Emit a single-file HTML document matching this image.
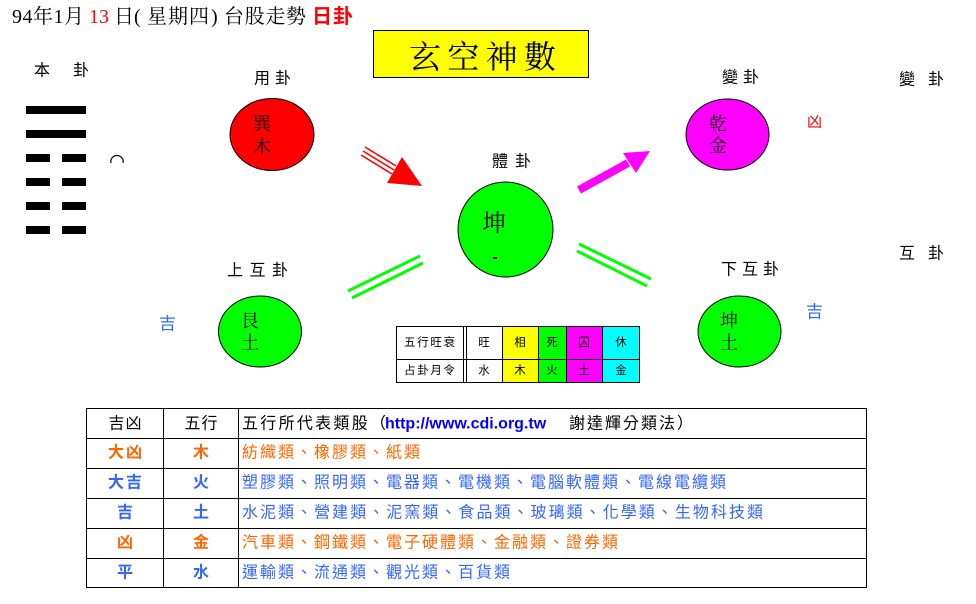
<!DOCTYPE html>
<html><head><meta charset="utf-8">
<style>
html,body{margin:0;padding:0;background:#fff;width:976px;height:604px;overflow:hidden;}
svg{display:block;}
text{font-family:"Liberation Sans","Noto Sans CJK TC",sans-serif;dominant-baseline:central;}
.s{font-family:"Liberation Serif","Noto Serif CJK SC",serif;}
.o{fill:#ff6600;}
.b{fill:#3366ff;}
</style></head><body>
<svg width="976" height="604" viewBox="0 0 976 604" xmlns="http://www.w3.org/2000/svg">
<rect x="0" y="0" width="976" height="604" fill="#fff"/>

<!-- Title -->
<text class="s" x="12" y="17" font-size="20" textLength="72" lengthAdjust="spacing">94年1月</text>
<text class="s" x="89" y="17" font-size="20" fill="#ff0000">13</text>
<text class="s" x="114" y="17" font-size="20">日</text>
<text class="s" x="134" y="17" font-size="20">(</text>
<text class="s" x="147" y="17" font-size="20" textLength="62" lengthAdjust="spacing">星期四</text>
<text class="s" x="211" y="17" font-size="20">)</text>
<text class="s" x="224" y="17" font-size="20" textLength="82" lengthAdjust="spacing">台股走勢</text>
<text x="312" y="17" font-size="20" fill="#ff0000" font-weight="bold" textLength="41" lengthAdjust="spacing">日卦</text>

<!-- Yellow title box -->
<rect x="373.5" y="30.5" width="215" height="47" fill="#ffff00" stroke="#000" stroke-width="1"/>
<text class="s" x="409" y="57" font-size="32" textLength="147" lengthAdjust="spacing">玄空神數</text>

<!-- 本卦 -->
<text x="34" y="71" font-size="16">本</text>
<text x="73" y="71" font-size="16">卦</text>
<rect x="26" y="106" width="60" height="8" fill="#000"/>
<rect x="26" y="130" width="60" height="8" fill="#000"/>
<rect x="26" y="154" width="24" height="8" fill="#000"/>
<rect x="62" y="154" width="24" height="8" fill="#000"/>
<rect x="26" y="178" width="24" height="8" fill="#000"/>
<rect x="62" y="178" width="24" height="8" fill="#000"/>
<rect x="26" y="202" width="24" height="8" fill="#000"/>
<rect x="62" y="202" width="24" height="8" fill="#000"/>
<rect x="26" y="226" width="24" height="8" fill="#000"/>
<rect x="62" y="226" width="24" height="8" fill="#000"/>
<path d="M111,163 A6.2,6 0 1 1 123,163" fill="none" stroke="#000" stroke-width="1.2"/>

<!-- Labels -->
<text x="254" y="79" font-size="16" textLength="37" lengthAdjust="spacing">用卦</text>
<text x="492" y="162" font-size="16" textLength="39" lengthAdjust="spacing">體卦</text>
<text x="722" y="78" font-size="16" textLength="37" lengthAdjust="spacing">變卦</text>
<text x="899" y="80" font-size="16">變</text>
<text x="928" y="80" font-size="16">卦</text>
<text x="899" y="254" font-size="16">互</text>
<text x="928" y="254" font-size="16">卦</text>
<text x="721" y="270" font-size="16" textLength="58" lengthAdjust="spacing">下互卦</text>
<text x="227" y="271" font-size="16" textLength="61" lengthAdjust="spacing">上互卦</text>

<text x="807" y="122" font-size="15" fill="#ff0000">凶</text>
<text x="806" y="312" font-size="17" class="b">吉</text>
<text x="159" y="324" font-size="17" class="b">吉</text>

<!-- Circles -->
<ellipse cx="272" cy="134.5" rx="42" ry="36" fill="#ff0000" stroke="#000" stroke-width="1"/>
<text class="s" x="262" y="124" font-size="18" text-anchor="middle">巽</text>
<text class="s" x="262" y="147" font-size="18" text-anchor="middle">木</text>

<ellipse cx="505.5" cy="229.5" rx="47.5" ry="47.5" fill="#00ff00" stroke="#000" stroke-width="1"/>
<text class="s" x="494" y="224" font-size="24" text-anchor="middle">坤</text>
<rect x="493" y="257" width="4" height="2" fill="#000"/>

<ellipse cx="727.5" cy="134.5" rx="41.5" ry="35.5" fill="#ff00ff" stroke="#000" stroke-width="1"/>
<text class="s" x="718" y="124" font-size="18" text-anchor="middle">乾</text>
<text class="s" x="718" y="146" font-size="18" text-anchor="middle">金</text>

<ellipse cx="260" cy="331.5" rx="41.5" ry="35.5" fill="#00ff00" stroke="#000" stroke-width="1"/>
<text class="s" x="250" y="321" font-size="18" text-anchor="middle">艮</text>
<text class="s" x="250" y="343" font-size="18" text-anchor="middle">土</text>

<ellipse cx="739.5" cy="331.5" rx="41.5" ry="35.5" fill="#00ff00" stroke="#000" stroke-width="1"/>
<text class="s" x="729" y="321" font-size="18" text-anchor="middle">坤</text>
<text class="s" x="729" y="343" font-size="18" text-anchor="middle">土</text>

<!-- Red arrow -->
<g stroke="#ff0000" stroke-width="1.6" fill="none">
<line x1="365" y1="147" x2="396" y2="166"/>
<line x1="363" y1="151" x2="394" y2="170"/>
<line x1="361" y1="155" x2="392" y2="174"/>
</g>
<polygon points="402,157 387,183 422,186" fill="#ff0000"/>

<!-- Magenta arrow -->
<line x1="579" y1="190" x2="628" y2="163" stroke="#ff00ff" stroke-width="8"/>
<polygon points="650,151 623,153 636,173" fill="#ff00ff"/>

<!-- Green lines -->
<g stroke="#00ff00" stroke-width="3">
<line x1="348" y1="291" x2="420" y2="256"/>
<line x1="352" y1="298" x2="423" y2="263"/>
<line x1="579" y1="244" x2="651" y2="279"/>
<line x1="577" y1="251" x2="647" y2="286"/>
</g>

<!-- Small table -->
<rect x="502" y="326" width="36" height="57" fill="#ffff00"/>
<rect x="538" y="326" width="28" height="57" fill="#00ff00"/>
<rect x="566" y="326" width="36" height="57" fill="#ff00ff"/>
<rect x="602" y="326" width="38" height="57" fill="#00ffff"/>
<g stroke="#000" stroke-width="1" shape-rendering="crispEdges" fill="none">
<rect x="396.5" y="326.5" width="243" height="56"/>
<line x1="396" y1="359.5" x2="640" y2="359.5"/>
<line x1="463.5" y1="326" x2="463.5" y2="383"/>
<line x1="466.5" y1="326" x2="466.5" y2="383"/>
<line x1="502.5" y1="326" x2="502.5" y2="383"/>
<line x1="538.5" y1="326" x2="538.5" y2="383"/>
<line x1="566.5" y1="326" x2="566.5" y2="383"/>
<line x1="602.5" y1="326" x2="602.5" y2="383"/>
</g>
<g font-size="11.5">
<text x="404" y="343" textLength="51" lengthAdjust="spacing">五行旺衰</text>
<text x="404" y="371" textLength="51" lengthAdjust="spacing">占卦月令</text>
<text x="484" y="343" text-anchor="middle">旺</text>
<text x="520" y="343" text-anchor="middle">相</text>
<text x="552" y="343" text-anchor="middle">死</text>
<text x="584" y="343" text-anchor="middle">囚</text>
<text x="621" y="343" text-anchor="middle">休</text>
<text x="484" y="371" text-anchor="middle">水</text>
<text x="520" y="371" text-anchor="middle">木</text>
<text x="552" y="371" text-anchor="middle">火</text>
<text x="584" y="371" text-anchor="middle">土</text>
<text x="621" y="371" text-anchor="middle">金</text>
</g>

<!-- Big table -->
<g stroke="#000" stroke-width="1.3" shape-rendering="crispEdges" fill="none">
<rect x="86.5" y="408.5" width="780" height="179"/>
<line x1="163.5" y1="408" x2="163.5" y2="588"/>
<line x1="238.5" y1="408" x2="238.5" y2="588"/>
<line x1="86" y1="438.5" x2="867" y2="438.5"/>
<line x1="86" y1="468.5" x2="867" y2="468.5"/>
<line x1="86" y1="498.5" x2="867" y2="498.5"/>
<line x1="86" y1="528.5" x2="867" y2="528.5"/>
<line x1="86" y1="558.5" x2="867" y2="558.5"/>
</g>
<g font-size="16">
<text x="125" y="424" text-anchor="middle" textLength="33" lengthAdjust="spacing">吉凶</text>
<text x="201" y="424" text-anchor="middle" textLength="33" lengthAdjust="spacing">五行</text>
<text x="242" y="424" textLength="144" lengthAdjust="spacing">五行所代表類股（</text>
<text x="385" y="424" font-family="Liberation Sans, sans-serif" font-weight="bold" fill="#0000ff">http://www.cdi.org.tw</text>
<text x="569" y="424" textLength="124" lengthAdjust="spacing">謝達輝分類法）</text>

<text x="125" y="453" text-anchor="middle" font-weight="bold" class="o" textLength="34" lengthAdjust="spacing">大凶</text>
<text x="201" y="453" text-anchor="middle" font-weight="bold" class="o">木</text>
<text x="242" y="453" class="o" textLength="178" lengthAdjust="spacing">紡織類、橡膠類、紙類</text>

<text x="125" y="483" text-anchor="middle" font-weight="bold" class="b" textLength="34" lengthAdjust="spacing">大吉</text>
<text x="201" y="483" text-anchor="middle" font-weight="bold" class="b">火</text>
<text x="242" y="483" class="b" textLength="484" lengthAdjust="spacing">塑膠類、照明類、電器類、電機類、電腦軟體類、電線電纜類</text>

<text x="125" y="513" text-anchor="middle" font-weight="bold" class="b">吉</text>
<text x="201" y="513" text-anchor="middle" font-weight="bold" class="b">土</text>
<text x="242" y="513" class="b" textLength="521" lengthAdjust="spacing">水泥類、營建類、泥窯類、食品類、玻璃類、化學類、生物科技類</text>

<text x="125" y="543" text-anchor="middle" font-weight="bold" class="o">凶</text>
<text x="201" y="543" text-anchor="middle" font-weight="bold" class="o">金</text>
<text x="242" y="543" class="o" textLength="376" lengthAdjust="spacing">汽車類、鋼鐵類、電子硬體類、金融類、證券類</text>

<text x="125" y="573" text-anchor="middle" font-weight="bold" class="b">平</text>
<text x="201" y="573" text-anchor="middle" font-weight="bold" class="b">水</text>
<text x="242" y="573" class="b" textLength="268" lengthAdjust="spacing">運輸類、流通類、觀光類、百貨類</text>
</g>
</svg>
</body></html>
